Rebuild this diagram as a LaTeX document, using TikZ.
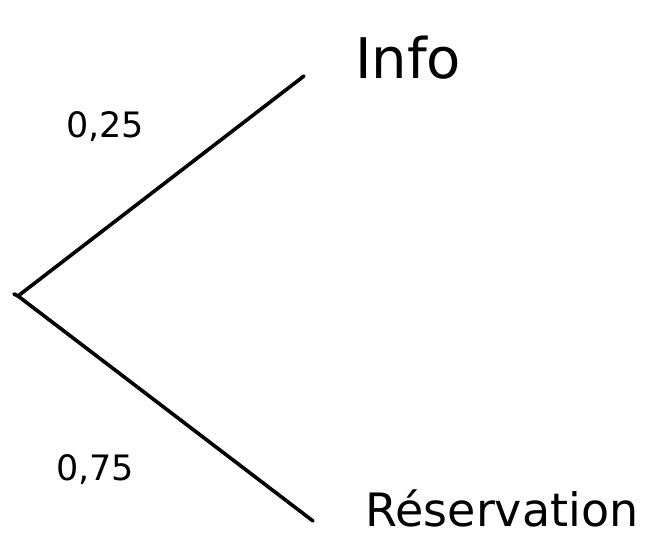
\documentclass[tikz,border=0pt]{standalone}
\usepackage{fontspec}
\setmainfont{DejaVu Sans}
\tikzset{
  branch/.style={line width=3.6pt, line cap=round},
  bigtext/.style={font=\fontsize{46}{50}\selectfont, inner sep=0pt},
  infotext/.style={font=\fontsize{56}{60}\selectfont, inner sep=0pt},
  probtext/.style={font=\fontsize{35}{38}\selectfont, inner sep=0pt}
}
\begin{document}
\begin{tikzpicture}[x=1pt,y=-1pt]
  \useasboundingbox[fill=white] (0,0) rectangle (645,537);
  \coordinate (root) at (18,296);
  \coordinate (upend) at (304,76);
  \coordinate (lowend) at (313,521);
  \node[infotext] (info) at (408,58) {Info};
  \node[bigtext] (res) at (502,508) {Réservation};
  \node[probtext] (p1) at (105,127) {0,25};
  \node[probtext] (p2) at (95,470) {0,75};
  \draw[branch] (root) -- (upend);
  \draw[branch] (root) -- (lowend);
  \draw[branch] (14,294) -- (root);
\end{tikzpicture}
\end{document}
